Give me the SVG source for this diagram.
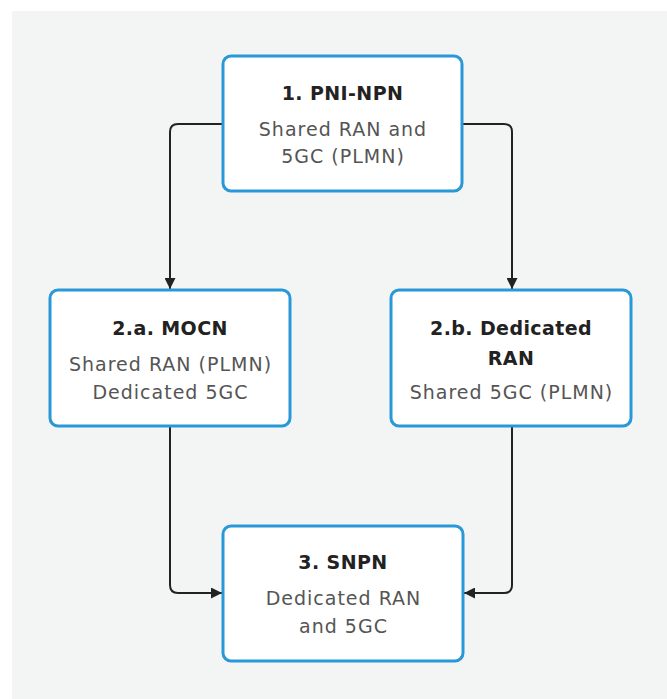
<svg xmlns="http://www.w3.org/2000/svg" width="667" height="699" viewBox="0 0 667 699">
  <defs>
    <marker id="arrow" viewBox="0 0 10 10" refX="10" refY="5" markerWidth="11" markerHeight="11" markerUnits="userSpaceOnUse" orient="auto">
      <path d="M0,0 L10,5 L0,10 Z" fill="#222"/>
    </marker>
    <style>
      .box { fill: #ffffff; stroke: #2898d8; stroke-width: 3; }
      .title { font-family: "DejaVu Sans", "Liberation Sans", sans-serif; font-weight: 700; font-size: 19px; letter-spacing: 0.4px; fill: #222; text-anchor: middle; }
      .body { font-family: "DejaVu Sans", "Liberation Sans", sans-serif; font-size: 19px; letter-spacing: 1px; fill: #555; text-anchor: middle; }
      .link { fill: none; stroke: #222; stroke-width: 2; marker-end: url(#arrow); }
    </style>
  </defs>

  <rect width="667" height="699" fill="#ffffff"/>
  <rect x="12" y="11" width="655" height="688" fill="#f3f4f4"/>

  <g id="connectors">
    <path class="link" d="M223,124 H178 Q170,124 170,132 V289"/>
    <path class="link" d="M462,124 H504 Q512,124 512,132 V289"/>
    <path class="link" d="M170,427 V585 Q170,593 178,593 H222"/>
    <path class="link" d="M512,427 V585 Q512,593 504,593 H464"/>
  </g>

  <g id="pni-npn">
    <rect class="box" x="223" y="56" width="239" height="135" rx="8"/>
    <text class="title" x="342.5" y="100">1. PNI-NPN</text>
    <text class="body" x="343" y="136">Shared RAN and</text>
    <text class="body" x="343" y="163">5GC (PLMN)</text>
  </g>

  <g id="mocn">
    <rect class="box" x="50" y="290" width="240" height="136" rx="8"/>
    <text class="title" x="170" y="335">2.a. MOCN</text>
    <text class="body" x="170.5" y="371">Shared RAN (PLMN)</text>
    <text class="body" x="170.5" y="399">Dedicated 5GC</text>
  </g>

  <g id="dedicated-ran">
    <rect class="box" x="391" y="290" width="240" height="136" rx="8"/>
    <text class="title" x="511" y="335">2.b. Dedicated</text>
    <text class="title" x="511" y="365">RAN</text>
    <text class="body" x="511.5" y="399">Shared 5GC (PLMN)</text>
  </g>

  <g id="snpn">
    <rect class="box" x="223" y="526" width="240" height="135" rx="8"/>
    <text class="title" x="343" y="569">3. SNPN</text>
    <text class="body" x="343.5" y="605">Dedicated RAN</text>
    <text class="body" x="343.5" y="633">and 5GC</text>
  </g>
</svg>
